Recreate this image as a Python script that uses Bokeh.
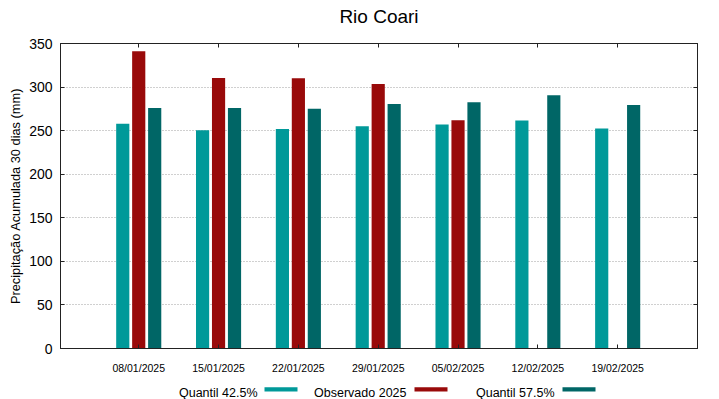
from bokeh.plotting import figure
from bokeh.models import ColumnDataSource, Range1d, FixedTicker, LinearAxis
from bokeh.layouts import column
from bokeh.transform import dodge
from bokeh.embed import file_html
from bokeh.resources import INLINE
from bokeh.core.properties import value

# ---- data ----
dates = ["08/01/2025", "15/01/2025", "22/01/2025", "29/01/2025",
         "05/02/2025", "12/02/2025", "19/02/2025"]
quantil_425 = [258, 250.5, 252, 255, 257, 261.5, 252.5]
observado_2025 = [341, 310.5, 310, 303.5, 262, float("nan"), float("nan")]
quantil_575 = [276, 276, 275, 280.5, 282.5, 290.5, 279.5]
y_ticks = [0, 50, 100, 150, 200, 250, 300, 350]
series_labels = ["Quantil 42.5%", "Observado 2025", "Quantil 57.5%"]
series_colors = ["#009999", "#990a0a", "#006666"]
title_text = "Rio Coari"
ylabel_text = "Precipitação Acumulada 30 dias (mm)"

FONT = "Liberation Sans"
xpos = list(range(len(dates)))
src = ColumnDataSource(dict(x=xpos, q425=quantil_425, obs=observado_2025, q575=quantil_575))

p = figure(width=719, height=376, x_range=Range1d(-0.98, 7), y_range=Range1d(0, 350),
           output_backend="svg", toolbar_location=None, tools="", title=None,
           min_border_left=60, min_border_right=22, min_border_top=43, min_border_bottom=26,
           background_fill_color="white", border_fill_color="white")
p.outline_line_color = "#222222"
p.outline_line_width = 1

bw = 0.165
for col, off, c in zip(["q425", "obs", "q575"], [-0.2, 0.0, 0.2], series_colors):
    p.vbar(x=dodge("x", off), top=col, width=bw, bottom=0, source=src,
           fill_color=c, line_color=None)

# axes
p.xaxis.ticker = FixedTicker(ticks=xpos)
p.xaxis.major_label_overrides = {i: d for i, d in zip(xpos, dates)}
p.yaxis.ticker = FixedTicker(ticks=y_ticks)
for ax in (p.xaxis[0], p.yaxis[0]):
    ax.major_tick_in = 4
    ax.major_tick_out = 0
    ax.minor_tick_line_color = None
    ax.axis_line_color = "#222222"
    ax.major_tick_line_color = "#222222"
    ax.major_label_text_font = FONT
    ax.major_label_text_color = "black"
p.xaxis.major_label_text_font_size = "10.5px"
p.xaxis.major_label_standoff = 13
p.yaxis.major_label_text_font_size = "14px"
p.yaxis.major_label_standoff = 8

# y axis title
p.yaxis.axis_label = ylabel_text
p.yaxis.axis_label_text_font = FONT
p.yaxis.axis_label_text_font_size = "12.8px"
p.yaxis.axis_label_text_font_style = "normal"
p.yaxis.axis_label_text_color = "black"
p.yaxis.axis_label_standoff = 3

def mirror_axis(ticks):
    return LinearAxis(ticker=FixedTicker(ticks=ticks), major_label_text_font_size="1px",
                      major_label_text_color=None, major_label_standoff=0,
                      major_tick_in=4, major_tick_out=0, minor_tick_line_color=None,
                      axis_line_color="#222222", major_tick_line_color="#222222")

# mirrored top axis carries the chart title as its axis label
top_axis = mirror_axis(xpos)
top_axis.axis_label = title_text
top_axis.axis_label_text_font = FONT
top_axis.axis_label_text_font_size = "19px"
top_axis.axis_label_text_font_style = "normal"
top_axis.axis_label_text_color = "black"
top_axis.axis_label_standoff = 17
p.add_layout(top_axis, "above")
p.add_layout(mirror_axis(y_ticks), "right")

p.xgrid.visible = False
p.ygrid.ticker = FixedTicker(ticks=y_ticks)
p.ygrid.grid_line_color = "#a0a0a0"
p.ygrid.grid_line_dash = "1 2"
p.ygrid.grid_line_width = 1

# legend figure (frame spans the same screen columns as the main frame)
lf = figure(width=719, height=23, x_range=Range1d(60, 697), y_range=Range1d(0, 23),
            output_backend="svg", toolbar_location=None, tools="", title=None,
            x_axis_location=None, y_axis_location=None,
            min_border_left=60, min_border_right=22, min_border_top=0, min_border_bottom=0,
            background_fill_color="white", border_fill_color="white")
lf.outline_line_color = None
lf.grid.visible = False
text_right = [257, 406, 554]
sw_left = [264, 414, 562]
sw_w = 33
lf.text(x=text_right, y=[7] * 3, text=series_labels, text_align="right",
        text_baseline="alphabetic", text_font=value(FONT), text_font_size=value("12.5px"),
        text_color="black")
lf.quad(left=sw_left, right=[l + sw_w for l in sw_left], bottom=8, top=12.3,
        fill_color=series_colors, line_color=None)

layout = column(p, lf, spacing=0)
open("out.html", "w").write(file_html(layout, INLINE))
